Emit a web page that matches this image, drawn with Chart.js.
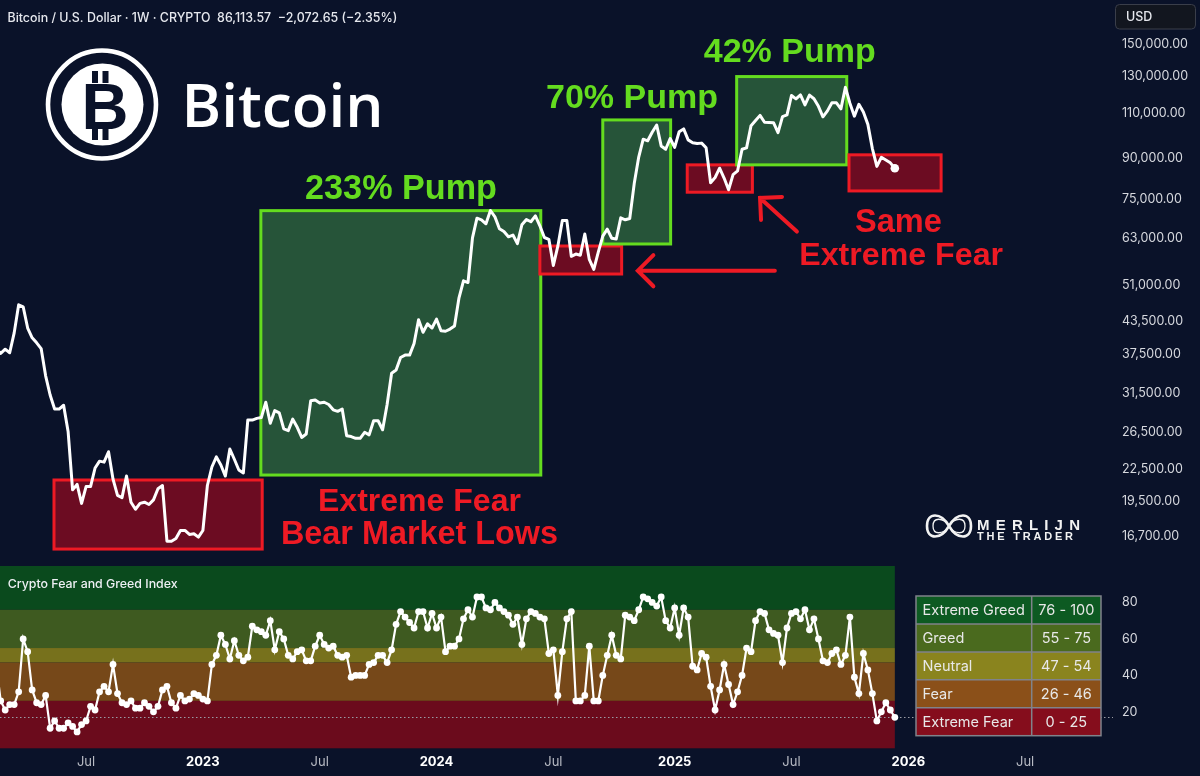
<!DOCTYPE html>
<html><head><meta charset="utf-8">
<script src="https://cdn.jsdelivr.net/npm/chart.js@4.4.1/dist/chart.umd.min.js"></script>
<style>
html,body{margin:0;padding:0;background:#0a1229;}
#wrap{position:relative;width:1200px;height:776px;overflow:hidden;background:#0a1229;}
#price{position:absolute;left:0;top:0;width:1200px;height:562px;}
#fg{position:absolute;left:0;top:566px;width:1200px;height:210px;}
</style></head><body>
<div id="wrap">
<canvas id="price" width="1200" height="562"></canvas>
<canvas id="fg" width="1200" height="210"></canvas>
</div>
<script>
const BG = '#0a1229';
// ---------- DATA ----------
const weekStart = '2022-02-14'; // first weekly bar (index 0)
const btcClose = [
38400,37700,38400,37800,41300,46800,46400,42200,40400,39500,
38500,34100,31300,29400,29400,29900,26600,20500,21000,19300,
20800,20800,22600,23300,23200,24300,21500,20000,19800,21800,
19400,18800,19300,19400,19200,19600,20600,20900,16300,16300,
16500,17100,17100,16800,16850,16600,17100,20900,22700,23750,
22900,21800,24600,23500,22400,22100,28000,27990,28200,28300,
30300,27600,29200,28900,26900,26700,28100,27100,25900,26300,
30500,30600,30200,30300,30000,29300,29100,29400,26100,26000,
25800,25800,26500,26200,27900,27900,26800,30000,34500,35000,
37000,37400,37400,39400,43800,41400,43000,42200,43900,41700,
41600,42000,42600,48300,52100,51700,63100,68900,68400,67200,
71300,69300,65700,64900,63400,63900,61500,66900,68500,67800,
69600,66600,63200,62700,55800,60800,68200,68200,58100,58700,
58400,64200,57300,54800,59200,63600,65600,63000,62800,69000,
68400,68800,80400,90500,98000,97300,101100,104400,95100,93700,
98300,94500,101300,102600,97700,96500,96100,96300,94300,80700,
82600,86100,82400,78200,83700,85100,93700,94300,104100,106500,
109000,105700,105600,105500,100900,108400,109200,119100,117300,119400,
114200,119300,117400,113500,108300,111200,115300,115300,112200,123500,
115100,108600,114500,110600,104700,94000,86800,90400,89300,88186,
86114];
const fearGreed = [
46,
26,21,24,24,31,60,53,32,25,24,
29,11,15,11,11,14,12,9,13,15,
23,21,31,34,31,46,30,25,24,26,
22,22,25,23,20,23,32,34,25,22,
29,26,27,30,29,27,26,46,51,62,
57,49,59,51,48,50,67,65,64,62,
70,54,64,60,51,49,53,
54,48,48,56,62,57,55,56,51,50,
51,39,40,40,40,46,47,51,51,47,
54,68,75,72,69,66,75,75,66,74,
66,72,53,56,56,60,71,76,72,83,
83,77,76,80,77,75,73,68,72,57,
71,75,74,72,71,52,54,29,53,71,
75,26,26,29,56,26,26,
40,51,62,51,49,73,72,70,76,83,
82,80,78,83,70,66,77,62,77,72,
45,43,52,50,34,21,32,46,35,24,
31,40,55,53,70,75,74,65,63,62,
47,66,74,75,71,76,65,71,60,48,
47,52,54,46,51,72,39,30,52,43,
30,15,20,25,21,17];
const xTickDates  = ['2022-07-04','2023-01-02','2023-07-03','2024-01-01','2024-07-01','2025-01-06','2025-07-07','2026-01-05','2026-07-06'];
const xTickLabels = ['Jul','2023','Jul','2024','Jul','2025','Jul','2026','Jul'];
const priceTicks  = [16700,19500,22500,26500,31500,37500,43500,51000,63000,75000,90000,110000,130000,150000];
const fgTicks     = [20,40,60,80];
// zones drawn on the price chart (week index / price)
const boxKind      = ['fear','pump','fear','pump','fear','pump','fear'];
const boxFromWeek  = [12.86, 58.9, 121.0, 135.0, 153.8, 164.8, 189.8];
const boxToWeek    = [59.2, 121.2, 139.2, 150.1, 168.3, 189.3, 210.3];
const boxLowPrice  = [15740, 21900, 53700, 61400, 77360, 87400, 77800];
const boxHighPrice = [21420, 71250, 60850, 106800, 87400, 129600, 91400];
// annotation texts (anchored at week index / price)
const noteText  = ['233% Pump','70% Pump','42% Pump','Extreme Fear','Bear Market Lows','Same','Extreme Fear'];
const noteKind  = ['pump','pump','pump','fear','fear','fear','fear'];
const noteWeek  = [90.1, 141.5, 176.6, 94.2, 94.2, 200.8, 201.4];
const notePrice = [75050, 112700, 138500, 18660, 16100, 64900, 56000];
// arrows
const arrowFromWeek  = [173.3, 178.2];
const arrowFromPrice = [54500, 64900];
const arrowToWeek    = [142.8, 170.0];
const arrowToPrice   = [54500, 75400];
// fear & greed zones and legend
const zoneLow    = [76, 55, 47, 26, 0];
const zoneHigh   = [100, 76, 55, 47, 26];
const legendName = ['Extreme Greed','Greed','Neutral','Fear','Extreme Fear'];
const legendRange= ['76 - 100','55 - 75','47 - 54','26 - 46','0 - 25'];

// ---------- STYLE ----------
const noteWidth   = [192, 172, 172, 203, 277, 87, 204];
const zoneColors  = ['#0a4a1d','#3e5a20','#77711c','#764819','#6b0b1c'];
const legendColors= ['#0d5a22','#4a6a1e','#8a841e','#8b5019','#850d1c'];
const GREEN = '#64dc1f', RED = '#ee1a24';
const UIFONT = 'Inter, "Noto Sans", sans-serif';
const BOLD = '"Liberation Sans", Arial, sans-serif';

const toWeek = d => (Date.parse(d+'T00:00:00Z') - Date.parse(weekStart+'T00:00:00Z')) / (7*864e5);
const xTickWeeks = xTickDates.map(toWeek);
const priceData = btcClose.map((v,i)=>({x:i,y:v}));
const fgData = fearGreed.map((v,i)=>({x:i,y:v}));
const X_MIN = 0.8435, X_MAX = 247.89;

function fitSize(ctx, text, weight, family, width){
  ctx.font = weight+' 100px '+family;
  return 100*width/ctx.measureText(text).width;
}
function drawFitted(ctx, text, x, y, width, weight, family, color, align){
  const s = fitSize(ctx, text, weight, family, width);
  ctx.font = weight+' '+s.toFixed(2)+'px '+family;
  ctx.fillStyle = color; ctx.textAlign = align||'center'; ctx.textBaseline = 'alphabetic';
  ctx.fillText(text, x, y);
}
function fixWidth(w){ return function(scale){ scale.width = w; scale.paddingTop=0; scale.paddingBottom=0; scale.paddingLeft=0; scale.paddingRight=0; }; }

const priceDecor = {
  id:'priceDecor',
  beforeDatasetsDraw(chart){
    const ctx = chart.ctx, xs = chart.scales.x, ys = chart.scales.y;
    ctx.save();
    for (let i=0;i<boxKind.length;i++){
      const x0 = xs.getPixelForValue(boxFromWeek[i]), x1 = xs.getPixelForValue(boxToWeek[i]);
      const y0 = ys.getPixelForValue(boxHighPrice[i]), y1 = ys.getPixelForValue(boxLowPrice[i]);
      const pump = boxKind[i]==='pump';
      ctx.fillStyle = pump ? '#265439' : '#6c0c22';
      ctx.fillRect(x0,y0,x1-x0,y1-y0);
      ctx.strokeStyle = pump ? GREEN : RED;
      ctx.lineWidth = 3;
      ctx.strokeRect(x0,y0,x1-x0,y1-y0);
    }
    ctx.restore();
  },
  afterDatasetsDraw(chart){
    const ctx = chart.ctx, xs = chart.scales.x, ys = chart.scales.y;
    ctx.save();
    for (let i=0;i<noteText.length;i++){
      drawFitted(ctx, noteText[i], xs.getPixelForValue(noteWeek[i]), ys.getPixelForValue(notePrice[i]),
        noteWidth[i], 'bold', BOLD, noteKind[i]==='pump'?GREEN:RED, 'center');
    }
    ctx.strokeStyle = RED; ctx.lineWidth = 4; ctx.lineCap = 'round';
    for (let i=0;i<arrowFromWeek.length;i++){
      const x0 = xs.getPixelForValue(arrowFromWeek[i]), y0 = ys.getPixelForValue(arrowFromPrice[i]);
      const x1 = xs.getPixelForValue(arrowToWeek[i]), y1 = ys.getPixelForValue(arrowToPrice[i]);
      const a = Math.atan2(y0-y1, x0-x1), L = 22;
      ctx.beginPath(); ctx.moveTo(x0,y0); ctx.lineTo(x1,y1);
      ctx.moveTo(x1 + L*Math.cos(a+Math.PI/4), y1 + L*Math.sin(a+Math.PI/4));
      ctx.lineTo(x1,y1);
      ctx.lineTo(x1 + L*Math.cos(a-Math.PI/4), y1 + L*Math.sin(a-Math.PI/4));
      ctx.stroke();
    }
    ctx.restore();
  },
  afterDraw(chart){
    const ctx = chart.ctx;
    ctx.save();
    // header
    drawFitted(ctx, 'Bitcoin / U.S. Dollar · 1W · CRYPTO  86,113.57  −2,072.65 (−2.35%)', 7.5, 22, 390, '500', UIFONT, '#e6e8ee', 'left');
    // USD box
    ctx.beginPath(); ctx.roundRect(1115.5,4.5,80,24.5,4);
    ctx.fillStyle='#12161f'; ctx.fill(); ctx.strokeStyle='#3a3e4a'; ctx.lineWidth=1; ctx.stroke();
    ctx.fillStyle='#e6e8ee'; ctx.font='500 12.5px '+UIFONT; ctx.textAlign='left'; ctx.textBaseline='middle';
    ctx.fillText('USD',1126,17);
    // Bitcoin logo
    ctx.strokeStyle='#ffffff'; ctx.lineWidth=4.6;
    ctx.beginPath(); ctx.arc(102,104.5,54,0,Math.PI*2); ctx.stroke();
    ctx.fillStyle='#ffffff';
    ctx.beginPath(); ctx.arc(102.5,104.5,41,0,Math.PI*2); ctx.fill();
    ctx.fillStyle=BG;
    ctx.fillRect(92,71,6,12); ctx.fillRect(102.5,71,6,12);
    ctx.fillRect(92,126,6,14); ctx.fillRect(102.5,126,6,14);
    ctx.font='bold 65px '+BOLD; ctx.textAlign='center'; ctx.textBaseline='alphabetic';
    ctx.fillText('B',105,128.5);
    drawFitted(ctx, 'Bitcoin', 181.5, 126.7, 202, '600', '"Open Sans", sans-serif', '#ffffff', 'left');
    // watermark
    ctx.strokeStyle='#f2f2f2'; ctx.lineWidth=2.6;
    ctx.beginPath();
    ctx.moveTo(949,526);
    ctx.bezierCurveTo(941,512,927,512,927,526);
    ctx.bezierCurveTo(927,540,941,540,949,526);
    ctx.bezierCurveTo(957,512,971,512,971,526);
    ctx.bezierCurveTo(971,540,957,540,949,526);
    ctx.stroke();
    ctx.lineWidth=1.3;
    ctx.beginPath();
    ctx.moveTo(949,526);
    ctx.bezierCurveTo(943,517,933,517,933,526);
    ctx.bezierCurveTo(933,535,943,535,949,526);
    ctx.bezierCurveTo(955,517,965,517,965,526);
    ctx.bezierCurveTo(965,535,955,535,949,526);
    ctx.stroke();
    ctx.fillStyle='#f2f2f2';
    ctx.font='bold 15px '+BOLD; ctx.textAlign='left';
    let w = ctx.measureText('MERLIJN').width;
    ctx.letterSpacing = ((103-w)/6).toFixed(2)+'px';
    ctx.fillText('MERLIJN',977,529.5);
    ctx.letterSpacing='0px';
    ctx.font='bold 11px '+BOLD;
    w = ctx.measureText('THE TRADER').width;
    ctx.letterSpacing = ((96-w)/9).toFixed(2)+'px';
    ctx.fillText('THE TRADER',977,540);
    ctx.letterSpacing='0px';
    ctx.restore();
  }
};

const fgDecor = {
  id:'fgDecor',
  beforeDatasetsDraw(chart){
    const ctx = chart.ctx, xs = chart.scales.x, ys = chart.scales.y, ca = chart.chartArea;
    const xEnd = xs.getPixelForValue(fearGreed.length-1);
    ctx.save();
    for (let i=0;i<zoneLow.length;i++){
      const yt = ys.getPixelForValue(zoneHigh[i]), yb = ys.getPixelForValue(zoneLow[i]);
      ctx.fillStyle = zoneColors[i];
      ctx.fillRect(ca.left, yt, xEnd-ca.left, yb-yt);
    }
    const yl = Math.round(ys.getPixelForValue(fearGreed[fearGreed.length-1]))+0.5;
    ctx.strokeStyle='#9a9da6'; ctx.lineWidth=1; ctx.setLineDash([1.5,2.5]);
    ctx.beginPath(); ctx.moveTo(ca.left,yl); ctx.lineTo(ca.right+3,yl); ctx.stroke();
    ctx.restore();
  },
  afterDraw(chart){
    const ctx = chart.ctx;
    ctx.save();
    drawFitted(ctx, 'Crypto Fear and Greed Index', 7.7, 22, 170, '500', UIFONT, '#eef0f4', 'left');
    const L=916, M=1031.7, R=1101, T=30, H=27.94;
    for (let i=0;i<legendName.length;i++){
      const y = T + i*H;
      ctx.fillStyle = legendColors[i];
      ctx.fillRect(L,y,R-L,H);
      ctx.fillStyle='#e8e8e8'; ctx.font='14.5px '+UIFONT; ctx.textBaseline='middle';
      ctx.textAlign='left'; ctx.fillText(legendName[i], L+6.5, y+H/2+0.5);
      ctx.textAlign='center'; ctx.fillText(legendRange[i], (M+R)/2, y+H/2+0.5);
    }
    ctx.strokeStyle='#80838b'; ctx.lineWidth=1.5;
    ctx.strokeRect(L,T,R-L,H*legendName.length);
    ctx.beginPath();
    for (let i=1;i<legendName.length;i++){ ctx.moveTo(L,T+i*H); ctx.lineTo(R,T+i*H); }
    ctx.moveTo(M,T); ctx.lineTo(M,T+H*legendName.length);
    ctx.stroke();
    ctx.restore();
  }
};

Chart.defaults.font.family = UIFONT;

new Chart(document.getElementById('price'), {
  type:'line',
  data:{datasets:[{
    data: priceData,
    borderColor:'#ffffff', borderWidth:3, tension:0,
    borderJoinStyle:'round',
    pointRadius: c => c.dataIndex===btcClose.length-1 ? 4.3 : 0,
    pointBackgroundColor:'#ffffff', pointBorderWidth:0
  }]},
  options:{
    responsive:false, animation:false, events:[],
    layout:{padding:0, autoPadding:false},
    plugins:{legend:{display:false}, tooltip:{enabled:false}},
    scales:{
      x:{type:'linear', display:false, min:X_MIN, max:X_MAX},
      y:{type:'logarithmic', position:'right', min:14857, max:182380,
         grid:{display:false, drawTicks:false}, border:{display:false},
         afterBuildTicks: s => { s.ticks = priceTicks.map(v=>({value:v})); },
         afterFit: fixWidth(90),
         ticks:{autoSkip:false, padding:12, color:'#d6d8de', font:{size:12.5, family:UIFONT},
           callback: v => Number(v).toLocaleString('en-US',{minimumFractionDigits:2, maximumFractionDigits:2})}
      }
    }
  },
  plugins:[priceDecor]
});

new Chart(document.getElementById('fg'), {
  type:'line',
  data:{datasets:[{
    data: fgData,
    borderColor:'#ffffff', borderWidth:2.2, tension:0,
    pointRadius:3.4, pointBackgroundColor:'#ffffff', pointBorderWidth:0
  }]},
  options:{
    responsive:false, animation:false, events:[],
    layout:{padding:0, autoPadding:false},
    plugins:{legend:{display:false}, tooltip:{enabled:false}},
    scales:{
      x:{type:'linear', min:X_MIN, max:X_MAX,
         grid:{display:false, drawTicks:false}, border:{display:false},
         afterBuildTicks: s => { s.ticks = xTickWeeks.map(v=>({value:v})); },
         afterFit: s => { s.height = 27.7; s.paddingLeft=0; s.paddingRight=0; s.paddingTop=0; s.paddingBottom=0; },
         ticks:{autoSkip:false, maxRotation:0, padding:6,
           color: c => /^\d/.test(xTickLabels[c.index]) ? '#ffffff' : '#b8bbc4',
           font: c => ({size:13, family:UIFONT, weight: /^\d/.test(xTickLabels[c.index]) ? 'bold' : 'normal'}),
           callback: (v,i) => xTickLabels[i]}
      },
      y:{type:'linear', position:'right', min:0, max:100,
         grid:{display:false, drawTicks:false}, border:{display:false},
         afterBuildTicks: s => { s.ticks = fgTicks.map(v=>({value:v})); },
         afterFit: fixWidth(90),
         ticks:{autoSkip:false, padding:12, color:'#d6d8de', font:{size:12.5, family:UIFONT}}
      }
    }
  },
  plugins:[fgDecor]
});
</script>
</body></html>
